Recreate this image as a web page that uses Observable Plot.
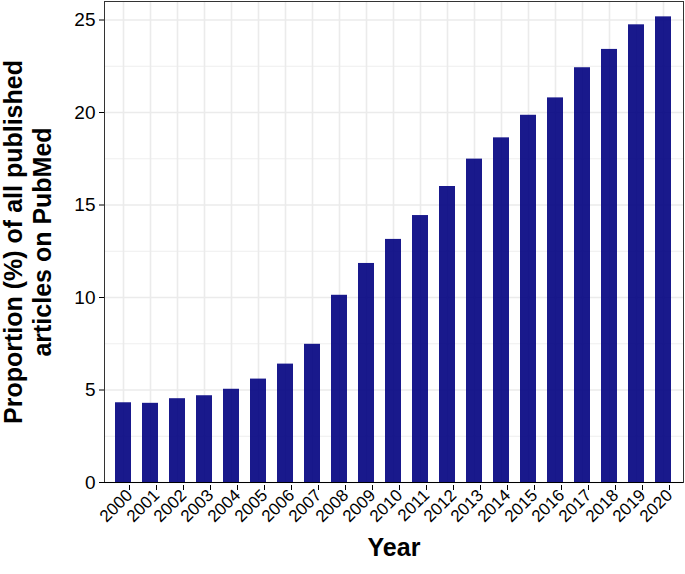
<!DOCTYPE html>
<html><head><meta charset="utf-8">
<script src="https://cdn.jsdelivr.net/npm/d3@7"></script>
<script src="https://cdn.jsdelivr.net/npm/@observablehq/plot@0.6"></script>
<style>body{margin:0;background:#fff;} svg{display:block;font-family:"Liberation Sans",Arial,sans-serif;}</style>
</head><body><div id="chart"></div>
<script>
const years = ["2000","2001","2002","2003","2004","2005","2006","2007","2008","2009","2010","2011","2012","2013","2014","2015","2016","2017","2018","2019","2020"];
const values = [4.31,4.28,4.53,4.69,5.04,5.59,6.40,7.47,10.12,11.84,13.14,14.43,16.0,17.48,18.63,19.85,20.79,22.42,23.41,24.74,25.17];
const majorTicks = [0,5,10,15,20,25];
const minorTicks = [2.5,7.5,12.5,17.5,22.5];
const yTitle = "Proportion (%) of all published\narticles on PubMed";
const xTitle = "Year";

const data = years.map((y,i)=>({year:y, value:values[i]}));

const chart = Plot.plot({
  width: 685, height: 574,
  marginLeft: 104, marginRight: 2, marginTop: 1, marginBottom: 92,
  style: {fontFamily: '"Liberation Sans", Arial, sans-serif', background: "#fff"},
  x: {domain: years, paddingInner: 0.4, paddingOuter: 0.3, label: null},
  y: {domain: [0, 26], label: null},
  marks: [
    Plot.gridY(minorTicks, {stroke: "#ebebeb", strokeOpacity: 1, strokeWidth: 0.8}),
    Plot.gridY(majorTicks, {stroke: "#ebebeb", strokeOpacity: 1, strokeWidth: 1.6}),
    Plot.gridX({stroke: "#ebebeb", strokeOpacity: 1, strokeWidth: 1.6}),
    Plot.barY(data, {x: "year", y: "value", fill: "#000080", fillOpacity: 0.9}),
    Plot.frame({stroke: "#333", strokeWidth: 1}),
    Plot.ruleY([0], {stroke: "#000", strokeWidth: 1.2}),
    Plot.axisY(majorTicks, {tickSize: 5, tickPadding: 4, fontSize: 19, fill: "#000", stroke: "#000", label: null}),
    Plot.axisX({tickSize: 5, tickRotate: -45, tickPadding: 2, dx: 6, dy: 3, fontSize: 17, fill: "#000", stroke: "#000", label: null}),
    Plot.text([yTitle], {frameAnchor: "left", textAnchor: "middle", dx: -77, rotate: -90, fontSize: 25, fontWeight: "bold", fill: "#000", lineHeight: 1.15}),
    Plot.text([xTitle], {frameAnchor: "bottom", textAnchor: "middle", dy: 73, fontSize: 25, fontWeight: "bold", fill: "#000"})
  ]
});
document.getElementById("chart").appendChild(chart);
</script></body></html>
